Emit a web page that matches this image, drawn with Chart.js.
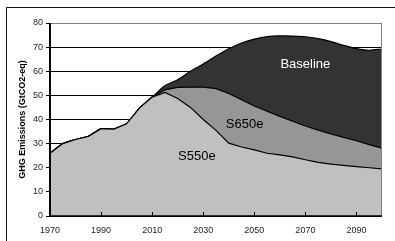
<!DOCTYPE html>
<html><head><meta charset="utf-8">
<script src="https://cdn.jsdelivr.net/npm/chart.js@4/dist/chart.umd.min.js"></script>
<style>
html,body{margin:0;padding:0;background:#fff;overflow:hidden;}
#wrap{position:relative;width:395px;height:241px;overflow:hidden;}
#frame{position:absolute;left:6px;top:7px;width:420px;height:260px;border:1px solid #1a1a1a;pointer-events:none;}
canvas{display:block;}
</style></head><body>
<div id="wrap"><canvas id="c" width="395" height="241"></canvas><div id="frame"></div></div>
<script>
// ---- data ----
const years = [1970,1975,1980,1985,1990,1995,2000,2005,2010,2015,2020,2025,2030,2035,2040,2045,2050,2055,2060,2065,2070,2075,2080,2085,2090,2095,2100];
const historical = [26, 30, 31.7, 33, 36.2, 36, 38.2, 44.7, 49.3]; // 1970-2010
const baselineFuture = [54, 56.5, 60, 63, 66.3, 69.3, 71.7, 73.3, 74.4, 74.7, 74.6, 74.3, 73.5, 72.3, 70.7, 69.4, 68.7, 69.2]; // 2015-2100
const s650eFuture = [52.3, 53.3, 53.4, 53.4, 52.8, 50.8, 48.2, 45.6, 43.4, 41.3, 39.3, 37.3, 35.6, 34, 32.6, 31.2, 29.6, 28.1];
const s550eFuture = [51.2, 48.7, 45, 40, 35.5, 30.2, 28.6, 27.4, 26, 25.3, 24.5, 23.3, 22.2, 21.5, 21, 20.5, 20, 19.5];
const xTicks = [1970, 1990, 2010, 2030, 2050, 2070, 2090];
const seriesNames = ['S550e', 'S650e', 'Baseline'];
const seriesLabels = [
  {text: 'Baseline', year: 2070, value: 63, color: '#ffffff'},
  {text: 'S650e', year: 2046.2, value: 37.8, color: '#000000'},
  {text: 'S550e', year: 2027.5, value: 24.6, color: '#000000'}
];

const toPts = arr => years.map((yr, i) => ({x: yr, y: arr[i]}));
const s550 = historical.concat(s550eFuture);
const s650 = historical.concat(s650eFuture);
const base = historical.concat(baselineFuture);

const FONT = '"Liberation Sans", Arial, sans-serif';

const overlay = {
  id: 'overlay',
  afterDatasetsDraw(chart) {
    const {ctx, chartArea: a, scales: {x, y}} = chart;
    ctx.save();
    // right plot border (gray)
    ctx.strokeStyle = '#808080'; ctx.lineWidth = 1;
    ctx.beginPath();
    ctx.moveTo(Math.round(a.right) - 0.5, a.top);
    ctx.lineTo(Math.round(a.right) - 0.5, a.bottom);
    ctx.stroke();
    // x inner tick marks
    ctx.strokeStyle = '#000'; ctx.lineWidth = 1;
    ctx.beginPath();
    xTicks.forEach(v => {
      const px = Math.round(x.getPixelForValue(v)) + 0.5;
      ctx.moveTo(px, a.bottom); ctx.lineTo(px, a.bottom - 4);
    });
    ctx.stroke();
    // axes
    ctx.lineWidth = 2;
    ctx.beginPath();
    ctx.moveTo(a.left, a.top); ctx.lineTo(a.left, a.bottom + 1);
    ctx.stroke();
    ctx.lineWidth = 1.5;
    ctx.beginPath();
    ctx.moveTo(a.left, a.bottom); ctx.lineTo(a.right, a.bottom);
    ctx.stroke();
    // series labels
    ctx.font = '13px ' + FONT;
    ctx.textAlign = 'center'; ctx.textBaseline = 'middle';
    seriesLabels.forEach(l => {
      ctx.fillStyle = l.color;
      ctx.fillText(l.text, x.getPixelForValue(l.year), y.getPixelForValue(l.value));
    });
    ctx.restore();
  }
};

new Chart(document.getElementById('c'), {
  type: 'line',
  data: {
    datasets: [
      {label: seriesNames[0], data: toPts(s550), backgroundColor: '#c0c0c0', borderColor: '#000', borderWidth: 1.2, fill: 'origin', pointRadius: 0, tension: 0},
      {label: seriesNames[1], data: toPts(s650), backgroundColor: '#969696', borderColor: '#000', borderWidth: 1.2, fill: 'origin', pointRadius: 0, tension: 0},
      {label: seriesNames[2], data: toPts(base), backgroundColor: '#333333', borderColor: '#000', borderWidth: 1.2, fill: 'origin', pointRadius: 0, tension: 0.25}
    ]
  },
  options: {
    responsive: false,
    animation: false,
    devicePixelRatio: 1,
    layout: {padding: {left: 0, top: 23, right: 13, bottom: 0}},
    plugins: {legend: {display: false}, tooltip: {enabled: false}},
    scales: {
      x: {
        type: 'linear', min: 1970, max: 2100,
        afterBuildTicks: s => { s.ticks = xTicks.map(v => ({value: v})); },
        afterFit: s => { s.height = 25; },
        grid: {display: false},
        border: {display: false},
        ticks: {font: {family: FONT, size: 9}, color: '#222', padding: 1, maxRotation: 0, autoSkip: false,
          callback: v => String(v)}
      },
      y: {
        min: 0, max: 80,
        afterFit: s => { s.width = 50; },
        ticks: {stepSize: 10, font: {family: FONT, size: 9}, color: '#222', padding: 3},
        grid: {color: c => c.tick && c.tick.value === 80 ? '#808080' : '#000', lineWidth: 1, tickLength: 4, tickColor: '#000'},
        border: {display: false},
        title: {display: true, text: 'GHG Emissions (GtCO2-eq)', font: {family: FONT, size: 9, weight: 'bold'}, color: '#000', padding: {top: 17.5, bottom: 0}}
      }
    }
  },
  plugins: [overlay]
});
</script>
</body></html>
